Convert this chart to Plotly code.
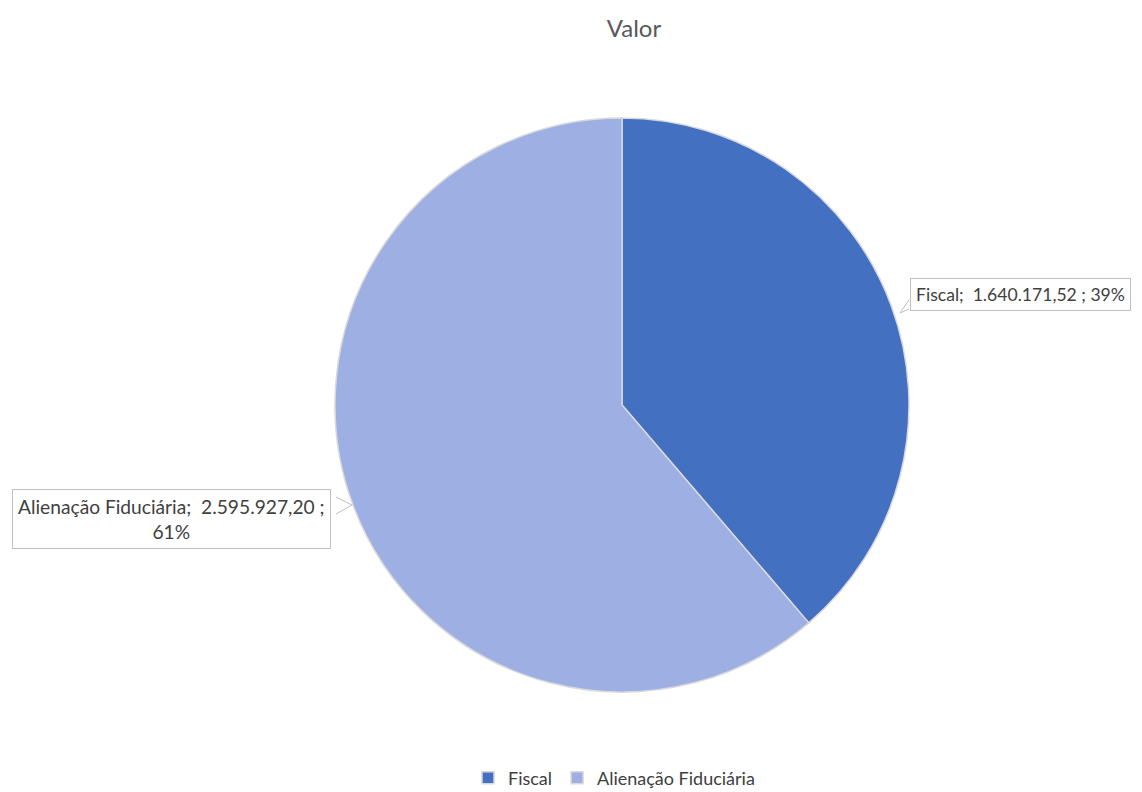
import plotly.graph_objects as go

categories = ["Fiscal", "Alienação Fiduciária"]
values = [1640171.52, 2595927.20]
label_texts = ["Fiscal;  1.640.171,52 ; 39%", "Alienação Fiduciária;  2.595.927,20 ;<br>61%"]
colors = ["#4470C2", "#9DAFE3"]

W, H = 1142, 792
OFF = 8  # page body margin offset
def px(x): return (x - OFF) / W
def py(y): return 1 - (y - OFF) / H

fig = go.Figure(go.Pie(
    labels=categories, values=values, sort=False, direction="clockwise", rotation=0,
    marker=dict(colors=colors, line=dict(color="#D9D9D9", width=1.5)),
    textinfo="none", hoverinfo="label+value+percent",
    domain=dict(x=[px(335), px(909)], y=[py(692), py(118)]),
))

font = "Lato, Carlito, Calibri, sans-serif"
fig.add_annotation(x=px(1020), y=py(294), xref="paper", yref="paper", text=label_texts[0],
                   xanchor="center", yanchor="middle",
                   showarrow=False, font=dict(family=font, size=17.6, color="#404040"),
                   bgcolor="white", bordercolor="#BFBFBF", borderwidth=1, borderpad=5)
fig.add_annotation(x=px(172), y=py(519), xref="paper", yref="paper", text=label_texts[1],
                   xanchor="center", yanchor="middle",
                   showarrow=False, font=dict(family=font, size=19.2, color="#404040"),
                   bgcolor="white", bordercolor="#BFBFBF", borderwidth=1, borderpad=5, align="center")

def pt(x, y): return f"{px(x)} {py(y)}"
fig.add_shape(type="path", xref="paper", yref="paper",
              path=f"M {pt(909,300)} L {pt(900,313)} L {pt(909,309)}",
              line=dict(color="#BFBFBF", width=1), fillcolor="white")
fig.add_shape(type="path", xref="paper", yref="paper",
              path=f"M {pt(336,497)} L {pt(352,505)} L {pt(336,514)}",
              line=dict(color="#BFBFBF", width=1), fillcolor="white")

fig.update_layout(
    width=W, height=H, margin=dict(l=0, r=0, t=0, b=0),
    paper_bgcolor="white", plot_bgcolor="white",
    title=dict(text="Valor", x=px(634), y=py(29), xanchor="center", yanchor="middle",
               font=dict(family=font, size=24, color="#595959")),
    showlegend=True,
    legend=dict(orientation="h", x=px(614), y=py(778), xanchor="center", yanchor="middle",
                font=dict(family=font, size=18, color="#404040"), itemwidth=30),
)
fig.write_html("out.html")
